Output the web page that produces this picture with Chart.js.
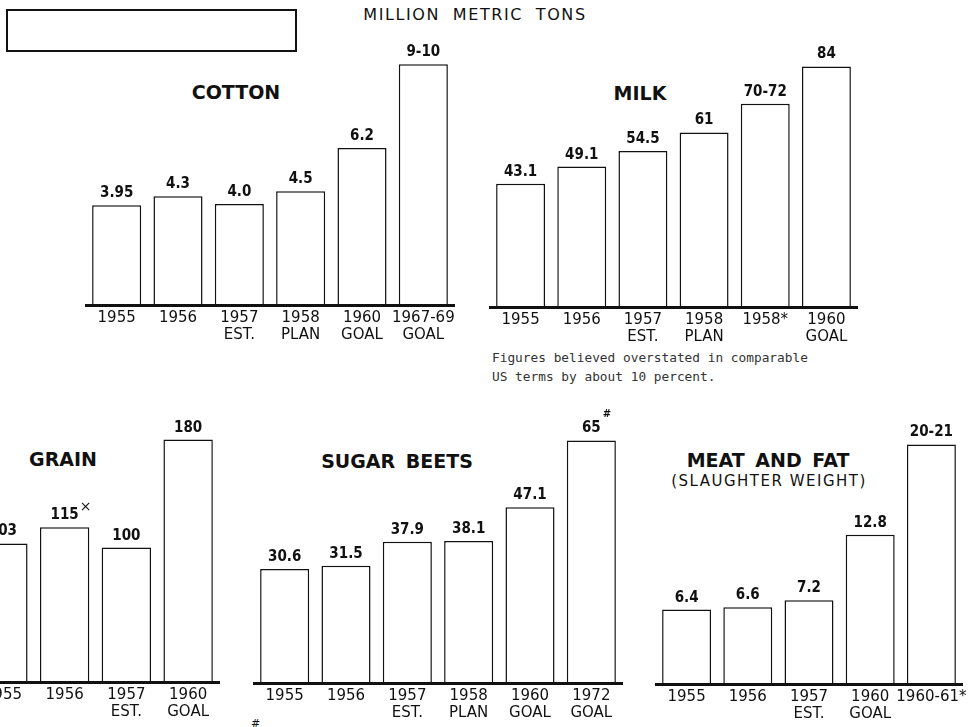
<!DOCTYPE html>
<html>
<head>
<meta charset="utf-8">
<script src="https://cdn.jsdelivr.net/npm/chart.js@4.4.0/dist/chart.umd.min.js"></script>
<style>
  body { margin: 0; background: #fff; }
  #page { position: relative; width: 970px; height: 727px; overflow: hidden; background: #fff;
          font-family: 'DejaVu Sans', sans-serif; color: #111; }
  canvas { position: absolute; }
  .t { position: absolute; white-space: nowrap; line-height: 1; transform: translateX(-50%); }
  .ttl { font-weight: bold; font-size: 19px; word-spacing: 4px; }
  #box { position: absolute; left: 6px; top: 9px; width: 287px; height: 39px; border: 2px solid #111; }
  .note { position: absolute; left: 492px; top: 348px; font-family: 'DejaVu Sans Mono', monospace;
          font-size: 12.8px; line-height: 19px; color: #333; white-space: pre; }
</style>
</head>
<body>
<div id="page">
  <div id="box"></div>
  <div class="t" style="left:475px;top:7px;font-size:16px;letter-spacing:1.6px;word-spacing:6px">MILLION METRIC TONS</div>

  <div class="t ttl" style="left:236px;top:83px">COTTON</div>
  <div class="t ttl" style="left:640px;top:84px">MILK</div>
  <div class="t ttl" style="left:63px;top:450px">GRAIN</div>
  <div class="t ttl" style="left:397px;top:452px">SUGAR BEETS</div>
  <div class="t ttl" style="left:768px;top:451px">MEAT AND FAT</div>
  <div class="t" style="left:769px;top:474px;font-size:15px;letter-spacing:1.5px">(SLAUGHTER WEIGHT)</div>

  <div class="note">Figures believed overstated in comparable
US terms by about 10 percent.</div>
  <div style="position:absolute;left:251px;top:717px;font-size:11px">#</div>

  <canvas id="cotton"></canvas>
  <canvas id="milk"></canvas>
  <canvas id="grain"></canvas>
  <canvas id="beets"></canvas>
  <canvas id="meat"></canvas>
</div>

<script>
// million metric tons
const cottonCats = ['1955', '1956', ['1957', 'EST.'], ['1958', 'PLAN'], ['1960', 'GOAL'], ['1967-69', 'GOAL']];
const cottonValues = [3.95, 4.3, 4.0, 4.5, 6.2, 9.5];
const cottonLabels = ['3.95', '4.3', '4.0', '4.5', '6.2', '9-10'];

const milkCats = ['1955', '1956', ['1957', 'EST.'], ['1958', 'PLAN'], '1958*', ['1960', 'GOAL']];
const milkValues = [43.1, 49.1, 54.5, 61, 71, 84];
const milkLabels = ['43.1', '49.1', '54.5', '61', '70-72', '84'];

const grainCats = ['1955', '1956', ['1957', 'EST.'], ['1960', 'GOAL']];
const grainValues = [103, 115, 100, 180];
const grainLabels = ['103', '115', '100', '180'];
const grainMarks = ['', '\u00d7', '', ''];

const beetCats = ['1955', '1956', ['1957', 'EST.'], ['1958', 'PLAN'], ['1960', 'GOAL'], ['1972', 'GOAL']];
const beetValues = [30.6, 31.5, 37.9, 38.1, 47.1, 65];
const beetLabels = ['30.6', '31.5', '37.9', '38.1', '47.1', '65'];
const beetMarks = ['', '', '', '', '', '#'];

const meatCats = ['1955', '1956', ['1957', 'EST.'], ['1960', 'GOAL'], '1960-61*'];
const meatValues = [6.4, 6.6, 7.2, 12.8, 20.5];
const meatLabels = ['6.4', '6.6', '7.2', '12.8', '20-21'];

const INK = '#111';
const PAD = 12;

// draws the figure over each bar (plus the little footnote marks)
const valueLabels = {
  id: 'valueLabels',
  afterDatasetsDraw(chart, args, opts) {
    const ctx = chart.ctx;
    const bars = chart.getDatasetMeta(0).data;
    ctx.save();
    ctx.fillStyle = INK;
    ctx.textBaseline = 'alphabetic';
    bars.forEach((bar, i) => {
      const txt = opts.labels[i];
      ctx.font = "bold 15px 'DejaVu Sans Condensed', 'DejaVu Sans', sans-serif";
      ctx.textAlign = 'center';
      ctx.fillText(txt, bar.x, bar.y - 8);
      const mark = opts.marks && opts.marks[i];
      if (mark) {
        const w = ctx.measureText(txt).width;
        ctx.textAlign = 'left';
        if (mark === '#') {
          ctx.font = "bold 10px 'DejaVu Sans', sans-serif";
          ctx.fillText(mark, bar.x + w / 2 + 2, bar.y - 23);
        } else {
          ctx.font = "14px 'DejaVu Sans', sans-serif";
          ctx.fillText(mark, bar.x + w / 2 + 1, bar.y - 16);
        }
      }
    });
    ctx.restore();
  }
};

function makePanel(id, cats, values, labels, marks, yMax, left, top, width, height) {
  const cv = document.getElementById(id);
  cv.width = width + PAD * 2;
  cv.height = height;
  cv.style.left = (left - PAD) + 'px';
  cv.style.top = top + 'px';

  return new Chart(cv, {
    type: 'bar',
    data: {
      labels: cats,
      datasets: [{
        data: values,
        backgroundColor: '#fff',
        borderColor: INK,
        borderWidth: 1.5,
        barPercentage: 0.8,
        categoryPercentage: 1
      }]
    },
    options: {
      responsive: false,
      animation: false,
      devicePixelRatio: 1,
      layout: { padding: { left: PAD, right: PAD, top: 0, bottom: 0 } },
      plugins: {
        legend: { display: false },
        tooltip: { enabled: false },
        valueLabels: { labels: labels, marks: marks }
      },
      scales: {
        x: {
          grid: { display: false, drawTicks: false },
          border: { display: true, color: INK, width: 3, z: 1 },
          ticks: {
            color: INK,
            padding: 4,
            maxRotation: 0,
            autoSkip: false,
            font: { family: "'DejaVu Sans', sans-serif", size: 15, lineHeight: 1.15 }
          }
        },
        y: { display: false, min: 0, max: yMax }
      }
    },
    plugins: [valueLabels]
  });
}

makePanel('cotton', cottonCats, cottonValues, cottonLabels, null, 10.85, 86, 30, 368, 318);
makePanel('milk', milkCats, milkValues, milkLabels, null, 96.7, 490, 30, 367, 320);
makePanel('grain', grainCats, grainValues, grainLabels, grainMarks, 209.3, -28, 400, 247, 325);
makePanel('beets', beetCats, beetValues, beetLabels, beetMarks, 75.8, 254, 400, 368, 326);
makePanel('meat', meatCats, meatValues, meatLabels, null, 24.3, 656, 400, 306, 327);
</script>
</body>
</html>
